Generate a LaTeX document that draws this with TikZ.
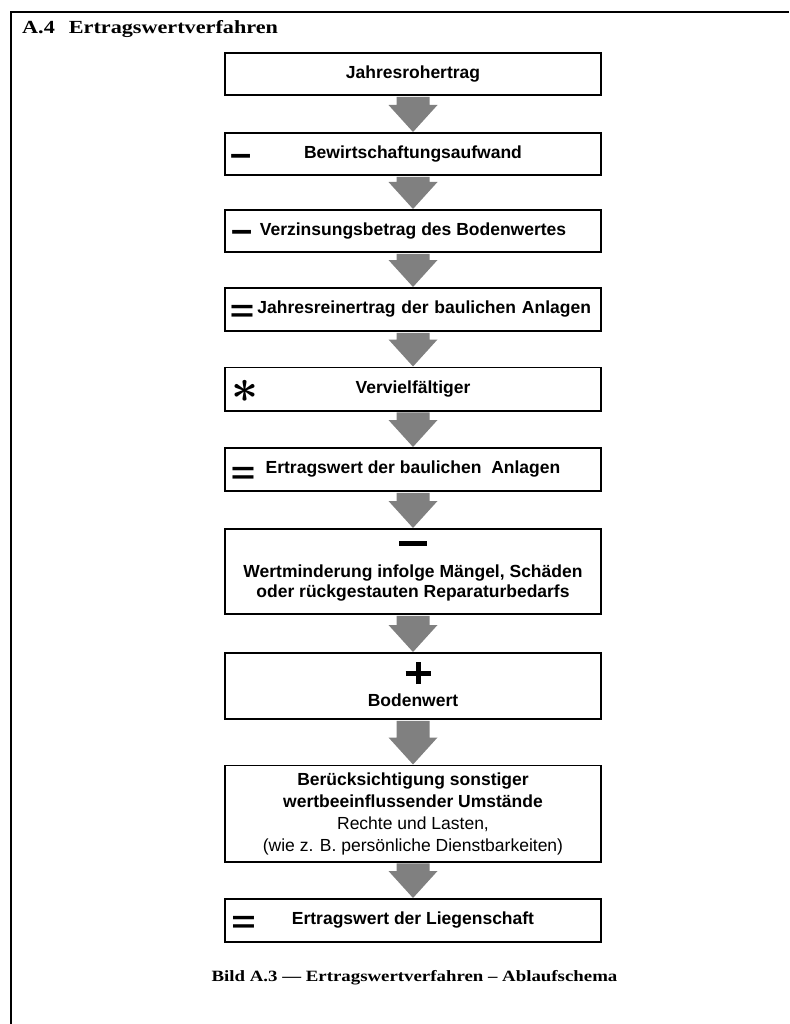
\documentclass[tikz,border=0pt]{standalone}
\usepackage{fontspec}
\setmainfont{Liberation Sans}
\newfontfamily\capfont{Liberation Serif}[FakeStretch=1.2]
\usetikzlibrary{calc}

\tikzset{
    stepbox/.style={draw, line width=1.6pt, minimum width=376.4pt, minimum height=42.4pt,
        inner sep=0pt, align=center, font=\fontsize{17.5}{20}\selectfont\bfseries},
    signmark/.style={inner sep=0pt, font=\fontsize{38}{38}\selectfont\bfseries},
    eqmark/.style={inner sep=0pt, xscale=1.35, font=\fontsize{31}{31}\selectfont\bfseries},
    astmark/.style={inner sep=0pt, scale=4.7, font=\boldmath},
    flowgray/.style={fill=black!50},
}

% big minus and plus above the text of a box
\newcommand{\bigminus}{\rule{28pt}{5pt}}
\newcommand{\bigplus}{\rlap{\rule[8.5pt]{25pt}{5pt}}\hspace{10pt}\rule{5pt}{22pt}\hspace{10pt}}

% gray block arrow from the bottom of box #1 to the top of box #2
\newcommand{\flowarrow}[2]{%
    \fill[flowgray] ($(#1.south)+(-16.5,0.8)$) -- ($(#1.south)+(16.5,0.8)$)
        -- ($(#2.north)+(16.5,-27)$) -- ($(#2.north)+(24.5,-27)$)
        -- (#2.north) -- ($(#2.north)+(-24.5,-27)$)
        -- ($(#2.north)+(-16.5,-27)$) -- cycle;}

\begin{document}
\begin{tikzpicture}[x=1pt, y=-1pt]

        % Size of the scanned page, keeps the margins
        \useasboundingbox (0, 0) rectangle (789, 1024);

        % Frame of the figure, only top and left edge are on the page
        \coordinate (framebot) at (11, 1024);
        \coordinate (framecorner) at (11, 12);
        \coordinate (frameright) at (789, 12);
        \draw[line width=1.8pt] (framebot) -- (framecorner) -- (frameright);

        \node[anchor=base west, inner sep=0pt, font=\capfont\bfseries\fontsize{18.5}{20}\selectfont]
            (heading) at (22, 33.5) {A.4\hspace{14pt}Ertragswertverfahren};

        % The boxes of the scheme, all centred on x = 413
        \begin{scope}[every node/.style={stepbox}]
            \node (rohertrag) at (413, 74) {Jahresrohertrag};
            \node (bewirt) at (413, 154) {Bewirtschaftungsaufwand};
            \node (verzins) at (413, 231) {Verzinsungsbetrag des Bodenwertes};
            \node (reinertrag) at (413, 309.5) [minimum height=43.4pt, text width=356pt, align=right]
                {Jahresreinertrag der baulichen Anlagen};
            \node (vervielf) at (413, 389) [minimum height=43.4pt] {Vervielfältiger};
            \node (ewbaul) at (413, 469.5) [minimum height=43.4pt] {Ertragswert der baulichen\ \ Anlagen};
            \node (wertmind) at (413, 571.5) [minimum height=85.4pt]
                {\bigminus\\[11.5pt]Wertminderung infolge Mängel, Schäden\\oder rückgestauten Reparaturbedarfs};
            \node (bodenwert) at (413, 686) [minimum height=66.4pt]
                {\bigplus\\[2.3pt]Bodenwert\rule[-3.7pt]{0pt}{3.7pt}};
            \node (sonstige) at (413, 813.5) [minimum height=96.4pt, font=\fontsize{17.5}{22}\selectfont\bfseries]
                {Berücksichtigung sonstiger\\wertbeeinflussender Umstände\\
                 \mdseries Rechte und Lasten,\\\mdseries (wie z. B. persönliche Dienstbarkeiten)};
            \node (ewlieg) at (413, 920.5) [minimum height=43.4pt] {Ertragswert der Liegenschaft};
        \end{scope}

        % Operators in front of the box texts
        \node[signmark] (minus1) at ($(bewirt.west)+(16.7, 6)$) {–};
        \node[signmark] (minus2) at ($(verzins.west)+(17.7, 5.5)$) {–};
        \node[eqmark] (equal1) at ($(reinertrag.west)+(18.2, 4)$) {=};
        \node[astmark] (times1) at ($(vervielf.west)+(21.2, 2)$) {$\ast$};
        \node[eqmark] (equal2) at ($(ewbaul.west)+(19.2, 5.5)$) {=};
        \node[eqmark] (equal3) at ($(ewlieg.west)+(19.7, 4)$) {=};

        % Arrows between the steps
        \flowarrow{rohertrag}{bewirt}
        \flowarrow{bewirt}{verzins}
        \flowarrow{verzins}{reinertrag}
        \flowarrow{reinertrag}{vervielf}
        \flowarrow{vervielf}{ewbaul}
        \flowarrow{ewbaul}{wertmind}
        \flowarrow{wertmind}{bodenwert}
        \flowarrow{bodenwert}{sonstige}
        \flowarrow{sonstige}{ewlieg}

        \node[anchor=base, inner sep=0pt, font=\capfont\bfseries\fontsize{15.7}{18}\selectfont]
            (caption) at (414.5, 981.5) {Bild A.3 — Ertragswertverfahren – Ablaufschema};

\end{tikzpicture}
\end{document}
